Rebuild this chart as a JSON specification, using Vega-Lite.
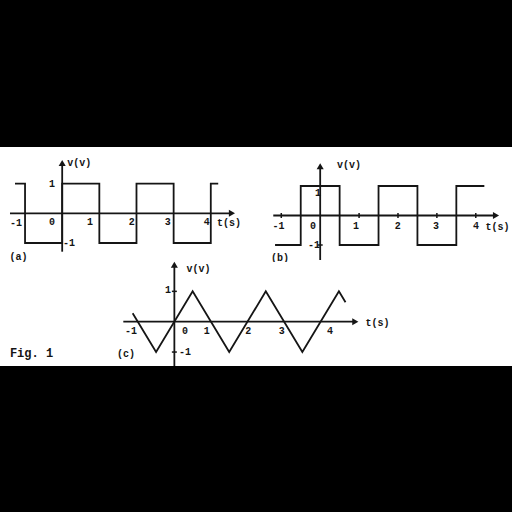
{
  "$schema": "https://vega.github.io/schema/vega-lite/v6.json",
  "background": "white",
  "padding": 0,
  "spacing": 0,
  "bounds": "flush",
  "config": {"view": {"stroke": null}, "concat": {"spacing": 0}},
  "datasets": {
    "waveA": [
      {"i": 0, "t": -1.27, "v": 1}, {"i": 1, "t": -1, "v": 1}, {"i": 2, "t": -1, "v": -1},
      {"i": 3, "t": 0, "v": -1}, {"i": 4, "t": 0, "v": 1}, {"i": 5, "t": 1, "v": 1},
      {"i": 6, "t": 1, "v": -1}, {"i": 7, "t": 2, "v": -1}, {"i": 8, "t": 2, "v": 1},
      {"i": 9, "t": 3, "v": 1}, {"i": 10, "t": 3, "v": -1}, {"i": 11, "t": 4, "v": -1},
      {"i": 12, "t": 4, "v": 1}, {"i": 13, "t": 4.2, "v": 1}
    ],
    "waveB": [
      {"i": 0, "t": -1.16, "v": -1}, {"i": 1, "t": -0.5, "v": -1}, {"i": 2, "t": -0.5, "v": 1},
      {"i": 3, "t": 0.5, "v": 1}, {"i": 4, "t": 0.5, "v": -1}, {"i": 5, "t": 1.5, "v": -1},
      {"i": 6, "t": 1.5, "v": 1}, {"i": 7, "t": 2.5, "v": 1}, {"i": 8, "t": 2.5, "v": -1},
      {"i": 9, "t": 3.5, "v": -1}, {"i": 10, "t": 3.5, "v": 1}, {"i": 11, "t": 4.22, "v": 1}
    ],
    "waveC": [
      {"i": 0, "t": -1.14, "v": 0.28}, {"i": 1, "t": -0.5, "v": -1}, {"i": 2, "t": 0.5, "v": 1},
      {"i": 3, "t": 1.5, "v": -1}, {"i": 4, "t": 2.5, "v": 1}, {"i": 5, "t": 3.5, "v": -1},
      {"i": 6, "t": 4.5, "v": 1}, {"i": 7, "t": 4.68, "v": 0.64}
    ],
    "axesA": [{"t": -1.405, "t2": 4.57, "v": 0, "v2": 0}, {"t": 0, "t2": 0, "v": -1.293, "v2": 1.694}],
    "axesB": [{"t": -1.206, "t2": 4.519, "v": 0, "v2": 0}, {"t": 0, "t2": 0, "v": -1.508, "v2": 1.668}],
    "axesC": [{"t": -1.396, "t2": 4.948, "v": 0, "v2": 0}, {"t": 0, "t2": 0, "v": -1.46, "v2": 1.878}],
    "arrowsA": [{"t": 4.57, "v": 0, "dir": "right"}, {"t": 0, "v": 1.694, "dir": "up"}],
    "arrowsB": [{"t": 4.519, "v": 0, "dir": "right"}, {"t": 0, "v": 1.668, "dir": "up"}],
    "arrowsC": [{"t": 4.948, "v": 0, "dir": "right"}, {"t": 0, "v": 1.878, "dir": "up"}],
    "ticksB": [
      {"t": -1, "v": 0, "o": "v"}, {"t": 1, "v": 0, "o": "v"}, {"t": 2, "v": 0, "o": "v"},
      {"t": 3, "v": 0, "o": "v"}, {"t": 4, "v": 0, "o": "v"},
      {"t": 0, "v": 1, "o": "h"}, {"t": 0, "v": -1, "o": "h"}
    ],
    "ticksC": [{"t": 0, "v": 1, "o": "h"}, {"t": 0, "v": -1, "o": "h"}],
    "labelsA": [
      {"t": 0.46, "v": 1.704, "label": "v(v)"},
      {"t": -0.275, "v": 1.0, "label": "1"},
      {"t": 0.183, "v": -1.0, "label": "-1"},
      {"t": -1.244, "v": -0.316, "label": "-1"},
      {"t": -0.275, "v": -0.31, "label": "0"},
      {"t": 0.748, "v": -0.31, "label": "1"},
      {"t": 1.871, "v": -0.31, "label": "2"},
      {"t": 2.84, "v": -0.31, "label": "3"},
      {"t": 3.89, "v": -0.31, "label": "4"},
      {"t": 4.49, "v": -0.33, "label": "t(s)"},
      {"t": -1.176, "v": -1.471, "label": "(a)"}
    ],
    "labelsB": [
      {"t": 0.74, "v": 1.712, "label": "v(v)"},
      {"t": -0.057, "v": 0.763, "label": "1"},
      {"t": -0.159, "v": -1.0, "label": "-1"},
      {"t": -1.072, "v": -0.356, "label": "-1"},
      {"t": -0.185, "v": -0.356, "label": "0"},
      {"t": 0.92, "v": -0.356, "label": "1"},
      {"t": 1.992, "v": -0.356, "label": "2"},
      {"t": 2.977, "v": -0.356, "label": "3"},
      {"t": 4.005, "v": -0.356, "label": "4"},
      {"t": 4.558, "v": -0.39, "label": "t(s)"},
      {"t": -1.034, "v": -1.44, "label": "(b)"}
    ],
    "labelsC": [
      {"t": 0.66, "v": 1.736, "label": "v(v)"},
      {"t": -0.174, "v": 1.044, "label": "1"},
      {"t": 0.291, "v": -0.988, "label": "-1"},
      {"t": -1.185, "v": -0.306, "label": "-1"},
      {"t": 0.291, "v": -0.306, "label": "0"},
      {"t": 0.885, "v": -0.306, "label": "1"},
      {"t": 2.022, "v": -0.306, "label": "2"},
      {"t": 2.935, "v": -0.306, "label": "3"},
      {"t": 4.256, "v": -0.306, "label": "4"},
      {"t": 5.555, "v": -0.043, "label": "t(s)"},
      {"t": -1.322, "v": -1.064, "label": "(c)"}
    ],
    "figLabel": [{"t": -3.906, "v": -1.031, "label": "Fig. 1"}]
  },
  "vconcat": [
    {
      "width": 512, "height": 147,
      "view": {"fill": "black", "stroke": null},
      "data": {"values": [{"k": 0}]},
      "mark": {"type": "point", "opacity": 0},
      "encoding": {}
    },
    {
      "width": 512, "height": 115,
      "view": {"fill": "white", "stroke": null},
      "resolve": {"scale": {"x": "independent", "y": "independent"}},
      "layer": [
        {
          "encoding": {
            "x": {"field": "t", "type": "quantitative", "scale": {"domain": [-1.674, 12.108], "nice": false, "zero": false}, "axis": null},
            "y": {"field": "v", "type": "quantitative", "scale": {"domain": [-1.64, 2.232], "nice": false, "zero": false}, "axis": null}
          },
          "layer": [
            {"data": {"name": "axesA"}, "mark": {"type": "rule", "stroke": "#151515", "strokeWidth": 1.8}, "encoding": {"x2": {"field": "t2"}, "y2": {"field": "v2"}}},
            {"data": {"name": "arrowsA"}, "transform": [{"filter": "datum.dir == 'right'"}], "mark": {"type": "point", "shape": "triangle-right", "filled": true, "size": 50, "color": "#151515", "opacity": 1}},
            {"data": {"name": "arrowsA"}, "transform": [{"filter": "datum.dir == 'up'"}], "mark": {"type": "point", "shape": "triangle-up", "filled": true, "size": 50, "color": "#151515", "opacity": 1}},
            {"data": {"name": "waveA"}, "mark": {"type": "line", "stroke": "#151515", "strokeWidth": 1.8}, "encoding": {"order": {"field": "i", "type": "quantitative"}}},
            {"data": {"name": "labelsA"}, "mark": {"type": "text", "font": "Liberation Mono", "fontWeight": "bold", "fontSize": 10, "color": "#151515", "align": "center", "baseline": "middle"}, "encoding": {"text": {"field": "label"}}}
          ]
        },
        {
          "encoding": {
            "x": {"field": "t", "type": "quantitative", "scale": {"domain": [-8.231, 4.931], "nice": false, "zero": false}, "axis": null},
            "y": {"field": "v", "type": "quantitative", "scale": {"domain": [-1.576, 2.322], "nice": false, "zero": false}, "axis": null}
          },
          "layer": [
            {"data": {"name": "axesB"}, "mark": {"type": "rule", "stroke": "#151515", "strokeWidth": 1.8}, "encoding": {"x2": {"field": "t2"}, "y2": {"field": "v2"}}},
            {"data": {"name": "arrowsB"}, "transform": [{"filter": "datum.dir == 'right'"}], "mark": {"type": "point", "shape": "triangle-right", "filled": true, "size": 50, "color": "#151515", "opacity": 1}},
            {"data": {"name": "arrowsB"}, "transform": [{"filter": "datum.dir == 'up'"}], "mark": {"type": "point", "shape": "triangle-up", "filled": true, "size": 50, "color": "#151515", "opacity": 1}},
            {"data": {"name": "ticksB"}, "transform": [{"filter": "datum.o == 'v'"}], "mark": {"type": "point", "shape": "M0,-1L0,1", "filled": false, "size": 25, "stroke": "#151515", "strokeWidth": 1.5, "opacity": 1}},
            {"data": {"name": "ticksB"}, "transform": [{"filter": "datum.o == 'h'"}], "mark": {"type": "point", "shape": "M-1,0L1,0", "filled": false, "size": 25, "stroke": "#151515", "strokeWidth": 1.5, "opacity": 1}},
            {"data": {"name": "waveB"}, "mark": {"type": "line", "stroke": "#151515", "strokeWidth": 1.8}, "encoding": {"order": {"field": "i", "type": "quantitative"}}},
            {"data": {"name": "labelsB"}, "mark": {"type": "text", "font": "Liberation Mono", "fontWeight": "bold", "fontSize": 10, "color": "#151515", "align": "center", "baseline": "middle"}, "encoding": {"text": {"field": "label"}}}
          ]
        }
      ]
    },
    {
      "width": 512, "height": 104,
      "view": {"fill": "white", "stroke": null},
      "encoding": {
        "x": {"field": "t", "type": "quantitative", "scale": {"domain": [-4.768, 9.233], "nice": false, "zero": false}, "axis": null},
        "y": {"field": "v", "type": "quantitative", "scale": {"domain": [-1.46, 1.967], "nice": false, "zero": false}, "axis": null}
      },
      "layer": [
        {"data": {"name": "axesC"}, "mark": {"type": "rule", "stroke": "#151515", "strokeWidth": 1.8}, "encoding": {"x2": {"field": "t2"}, "y2": {"field": "v2"}}},
        {"data": {"name": "arrowsC"}, "transform": [{"filter": "datum.dir == 'right'"}], "mark": {"type": "point", "shape": "triangle-right", "filled": true, "size": 50, "color": "#151515", "opacity": 1}},
        {"data": {"name": "arrowsC"}, "transform": [{"filter": "datum.dir == 'up'"}], "mark": {"type": "point", "shape": "triangle-up", "filled": true, "size": 50, "color": "#151515", "opacity": 1}},
        {"data": {"name": "ticksC"}, "mark": {"type": "point", "shape": "M-1,0L1,0", "filled": false, "size": 25, "stroke": "#151515", "strokeWidth": 1.5, "opacity": 1}},
        {"data": {"name": "waveC"}, "mark": {"type": "line", "stroke": "#151515", "strokeWidth": 1.8}, "encoding": {"order": {"field": "i", "type": "quantitative"}}},
        {"data": {"name": "labelsC"}, "mark": {"type": "text", "font": "Liberation Mono", "fontWeight": "bold", "fontSize": 10, "color": "#151515", "align": "center", "baseline": "middle"}, "encoding": {"text": {"field": "label"}}},
        {"data": {"name": "figLabel"}, "mark": {"type": "text", "font": "Liberation Mono", "fontWeight": "bold", "fontSize": 12, "color": "#151515", "align": "center", "baseline": "middle"}, "encoding": {"text": {"field": "label"}}}
      ]
    },
    {
      "width": 512, "height": 146,
      "view": {"fill": "black", "stroke": null},
      "data": {"values": [{"k": 0}]},
      "mark": {"type": "point", "opacity": 0},
      "encoding": {}
    }
  ]
}
